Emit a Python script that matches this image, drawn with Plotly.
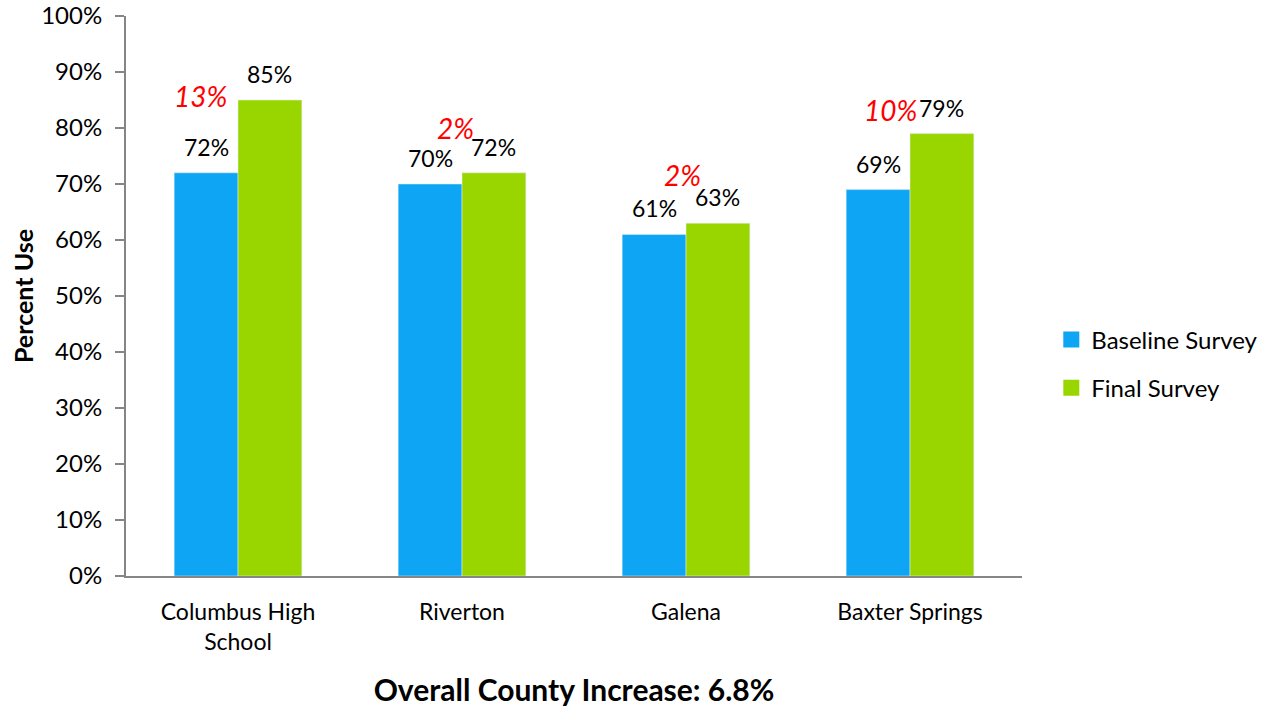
import plotly.graph_objects as go

categories = ["Columbus High<br>School", "Riverton", "Galena", "Baxter Springs"]
baseline = [72, 70, 61, 69]
final = [85, 72, 63, 79]
series_names = ["Baseline Survey", "Final Survey"]
y_ticks = [0, 10, 20, 30, 40, 50, 60, 70, 80, 90, 100]
x_title = "Overall County Increase: 6.8%"
y_title = "Percent Use"

increase = [f - b for b, f in zip(baseline, final)]

FONT = "Lato, Carlito, Calibri, sans-serif"
BLUE = "#0FA5F5"
GREEN = "#99D600"
BARGAP = 0.43

W, H = 1272, 708
M = dict(l=126, r=250, t=16, b=132)
plot_w = W - M["l"] - M["r"]
bar_px = plot_w / len(categories) * (1 - BARGAP) / 2

fig = go.Figure()
for name, vals, col in zip(series_names, [baseline, final], [BLUE, GREEN]):
    fig.add_trace(go.Bar(
        x=categories, y=vals, name=name, marker_color=col,
        showlegend=False, cliponaxis=False,
    ))
    # legend-only square markers
    fig.add_trace(go.Scatter(
        x=[None], y=[None], mode="markers", name=name, legendgroup=name,
        marker=dict(symbol="square", size=16, color=col),
    ))

# value labels above each bar
for vals, side in zip([baseline, final], [-1, 1]):
    for cat, v in zip(categories, vals):
        fig.add_annotation(
            x=cat, y=v, text=f"{v}%", showarrow=False,
            xshift=side * bar_px / 2, yshift=26,
            xanchor="center", yanchor="middle",
            font=dict(size=23, color="#000000", family=FONT),
        )

# red increase labels (placement offsets)
label_xshift = [-38, -7, -4, -20]
label_yoffset = [13.7, 10.0, 10.6, 14.2]
for cat, b, inc, xs, yo in zip(categories, baseline, increase, label_xshift, label_yoffset):
    fig.add_annotation(
        x=cat, y=b + yo, text=f"<i>{inc}%</i>", showarrow=False,
        xshift=xs, font=dict(size=28, color="#FF0000", family=FONT),
        xanchor="center", yanchor="middle",
    )

fig.update_layout(
    width=W, height=H,
    margin=M,
    paper_bgcolor="white", plot_bgcolor="white",
    barmode="group", bargap=BARGAP, bargroupgap=0,
    font=dict(family=FONT, size=23, color="#000000"),
    legend=dict(
        xref="container", yref="container",
        x=0.8265, y=0.486, xanchor="left", yanchor="middle",
        font=dict(size=24, family=FONT), tracegroupgap=14,
        itemwidth=30,
    ),
    xaxis=dict(
        showline=True, linecolor="#868686", linewidth=2,
        ticks="", tickfont=dict(size=23, family=FONT),
        ticklabelstandoff=14, automargin=False,
        title=dict(text=f"<b>{x_title}</b>", font=dict(size=30, family=FONT), standoff=26),
    ),
    yaxis=dict(
        range=[0, 100], tickvals=y_ticks, ticktext=[f"{v}%" for v in y_ticks],
        showline=True, linecolor="#868686", linewidth=2,
        ticks="outside", ticklen=9, tickcolor="#868686", tickwidth=2,
        showgrid=False, zeroline=False, automargin=False,
        ticklabeloverflow="allow",
        tickfont=dict(size=24, family=FONT), ticklabelstandoff=8,
        title=dict(text=f"<b>{y_title}</b>", font=dict(size=25, family=FONT), standoff=0),
    ),
)

fig.write_html(
    "out.html",
    config={"displayModeBar": False},
    post_script="document.body.style.margin='0';",
)
